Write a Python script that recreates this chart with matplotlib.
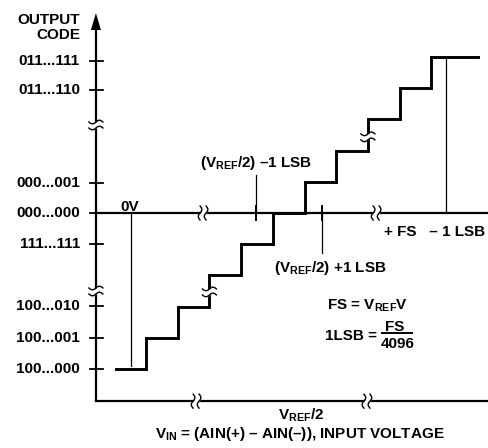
import numpy as np
import matplotlib
matplotlib.use('Agg')
import matplotlib.pyplot as plt

plt.rcParams['font.family'] = ['Liberation Sans', 'DejaVu Sans']
plt.rcParams['font.weight'] = 'bold'
plt.rcParams['mathtext.fontset'] = 'custom'
plt.rcParams['mathtext.rm'] = 'Liberation Sans:bold'
plt.rcParams['mathtext.it'] = 'Liberation Sans:bold'
plt.rcParams['mathtext.bf'] = 'Liberation Sans:bold'
plt.rcParams['mathtext.default'] = 'rm'

# ---------------- data (x in LSB steps, y in code levels) ----------------
step_edges = [-0.95, 0, 1, 2, 3, 4, 5, 6, 7, 8, 9, 10.47]
step_levels = [0, 1, 2, 3, 4, 5, 6, 7, 8, 9, 10, 10]
code_tick_pos = [9.87, 8.94, 5.96, 5.0, 4.0, 2.03, 0.99, 0.0]
code_labels = ["011...111", "011...110", "000...001", "000...000",
               "111...111", "100...010", "100...001", "100...000"]
zero_v_x = -0.47
fs_line_x = 9.46
vref_minus_x = 3.47
vref_plus_x = 5.55
zero_code_level = 5
axis_x = -1.58
bottom_level = -1.03
arrow_top = 11.41
yaxis_breaks = [7.82, 2.5]
mid_axis_breaks = [1.8, 7.26]
bottom_axis_breaks = [1.58, 6.97]
stair_breaks = [(2, 2.47), (7, 7.44)]

PX_X = 1 / 31.7
PX_Y = 1 / 31.2

fig = plt.figure(figsize=(4.88, 4.48), dpi=100)
ax = fig.add_axes([0, 0, 1, 1])
ax.set_xlim(-146 * PX_X, (488 - 146) * PX_X)
ax.set_ylim(-(448 - 369) * PX_Y, 369 * PX_Y)
ax.axis('off')

K = 'black'
# axes
ax.plot([axis_x, axis_x], [bottom_level, arrow_top - 0.5], color=K, lw=1.6, zorder=2)
ax.fill([axis_x - 5 * PX_X, axis_x + 5 * PX_X, axis_x],
        [arrow_top - 17 * PX_Y, arrow_top - 17 * PX_Y, arrow_top], color=K, lw=0, zorder=2)
ax.plot([axis_x, 10.8], [zero_code_level, zero_code_level], color=K, lw=1.6, zorder=2)
ax.plot([axis_x, 10.76], [bottom_level, bottom_level], color=K, lw=1.6, zorder=2)

# y ticks + labels
for pos, lab in zip(code_tick_pos, code_labels):
    ax.plot([axis_x - 6 * PX_X, axis_x + 7 * PX_X], [pos, pos], color=K, lw=1.3, zorder=2)
    ax.text(axis_x - 16 * PX_X, pos, lab, ha='right', va='center', fontsize=11, fontweight='bold')
ax.text(axis_x - 16 * PX_X, 11.06, "OUTPUT", ha='right', va='baseline', fontsize=11, fontweight='bold')
ax.text(axis_x - 16 * PX_X, 10.58, "CODE", ha='right', va='baseline', fontsize=11, fontweight='bold')

# staircase
ax.plot(step_edges, step_levels, drawstyle='steps-post', color=K, lw=2.1, zorder=2,
        solid_joinstyle='miter')

# thin reference lines
ax.plot([zero_v_x, zero_v_x], [zero_code_level, 0.1], color=K, lw=0.9, zorder=1)
ax.plot([fs_line_x, fs_line_x], [zero_code_level, 10], color=K, lw=0.9, zorder=1)
ax.plot([vref_minus_x, vref_minus_x], [zero_code_level, 6.22], color=K, lw=0.9, zorder=1)
ax.plot([vref_plus_x, vref_plus_x], [zero_code_level, 3.72], color=K, lw=0.9, zorder=1)
for xx in (vref_minus_x, vref_plus_x):
    ax.plot([xx, xx], [zero_code_level - 7 * PX_Y, zero_code_level + 7 * PX_Y], color=K, lw=1.4, zorder=2)

# break marks
t = np.linspace(-1, 1, 40)
def brk_vertical_line(x0, y0):
    xs = x0 + t * 7 * PX_X
    w = 1.8 * PX_Y * np.sin(np.pi * t)
    lo = y0 - 3 * PX_Y + w
    hi = y0 + 3 * PX_Y + w
    ax.fill_between(xs, lo, hi, color='white', lw=0, zorder=3)
    ax.plot(xs, lo, color=K, lw=1.0, zorder=4)
    ax.plot(xs, hi, color=K, lw=1.0, zorder=4)

def brk_horizontal_line(x0, y0):
    ys = y0 + t * 7 * PX_Y
    w = 1.8 * PX_X * np.sin(np.pi * t)
    lo = x0 - 3 * PX_X + w
    hi = x0 + 3 * PX_X + w
    ax.fill_betweenx(ys, lo, hi, color='white', lw=0, zorder=3)
    ax.plot(lo, ys, color=K, lw=1.0, zorder=4)
    ax.plot(hi, ys, color=K, lw=1.0, zorder=4)

for yb in yaxis_breaks:
    brk_vertical_line(axis_x, yb)
for xs_, yb in stair_breaks:
    brk_vertical_line(xs_, yb)
for xb in mid_axis_breaks:
    brk_horizontal_line(xb, zero_code_level)
for xb in bottom_axis_breaks:
    brk_horizontal_line(xb, bottom_level)

# annotations
fs = 11
ax.text(-0.505, 5.06, "0V", ha='center', va='baseline', fontsize=fs, fontweight='bold')
ax.text(vref_minus_x, 6.47, r"($\mathrm{V_{REF}}$/2) –1 LSB", ha='center', va='baseline', fontsize=fs, fontweight='bold')
ax.text(5.80, 3.11, r"($\mathrm{V_{REF}}$/2) +1 LSB", ha='center', va='baseline', fontsize=fs, fontweight='bold')
ax.text(9.09, 4.26, "+ FS   – 1 LSB", ha='center', va='baseline', fontsize=fs, fontweight='bold')
ax.text(7.0, 1.89, r"FS = $\mathrm{V_{REF}}$V", ha='center', va='baseline', fontsize=fs, fontweight='bold')
ax.text(7.29, 0.929, "1LSB =", ha='right', va='baseline', fontsize=fs, fontweight='bold')
ax.text(7.86, 1.218, "FS", ha='center', va='baseline', fontsize=fs, fontweight='bold')
ax.plot([7.44, 8.39], [1.138, 1.138], color=K, lw=1.4)
ax.text(7.93, 0.673, "4096", ha='center', va='baseline', fontsize=fs, fontweight='bold')
ax.text(4.89, -1.635, r"$\mathrm{V_{REF}}$/2", ha='center', va='baseline', fontsize=fs, fontweight='bold')
ax.text(4.86, -2.21, r"$\mathrm{V_{IN}}$ = (AIN(+) – AIN(–)), INPUT VOLTAGE", ha='center', va='baseline', fontsize=fs, fontweight='bold')

fig.savefig('out.png', dpi=100)
